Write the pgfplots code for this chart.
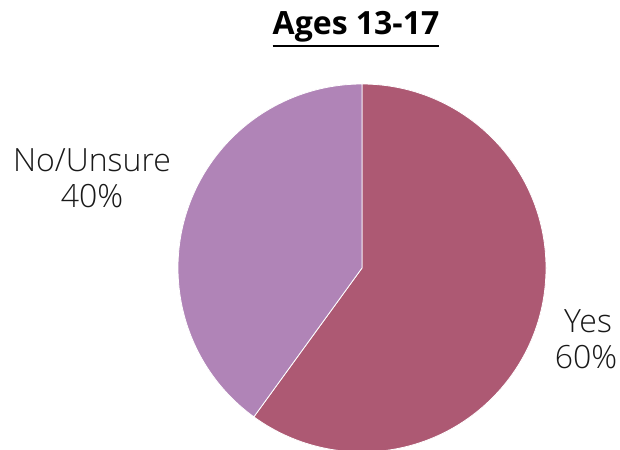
\documentclass[border=0pt]{standalone}
\usepackage{pgfplots}
\pgfplotsset{compat=1.18}
\usepackage{pgfplotstable}
\usepackage{fontspec}
\setmainfont{Open Sans}
\newfontfamily\lightfont{Open Sans Light}
\definecolor{yescol}{HTML}{AD5973}
\definecolor{nocol}{HTML}{B084B7}
\newcommand\ul[1]{\leavevmode\vtop{\hbox{#1}\kern2bp\hrule height 2.6bp}}
\pgfplotstableread{
label value
Yes 60
NoUnsure 40
}\piedata
\begin{document}
\begin{tikzpicture}
\pgfplotstablegetelem{0}{value}\of\piedata \edef\vyes{\pgfplotsretval}
\pgfplotstablegetelem{1}{value}\of\piedata \edef\vno{\pgfplotsretval}
\pgfmathsetmacro{\angA}{90-3.6*\vyes}
\pgfmathsetmacro{\angB}{\angA-3.6*\vno}
\begin{axis}[
  width=620bp, height=449bp, scale only axis,
  xmin=0, xmax=620, ymin=0, ymax=449,
  axis lines=none, clip=true,
]
\path (axis cs:0,0) rectangle (axis cs:620,449);
\fill[yescol, draw=white, line width=0.8bp] (axis cs:362,181) -- ++(90:184bp) arc[start angle=90, end angle=\angA, radius=184bp] -- cycle;
\fill[nocol, draw=white, line width=0.8bp] (axis cs:362,181) -- ++(\angA:184bp) arc[start angle=\angA, end angle=\angB, radius=184bp] -- cycle;
\node[anchor=base, inner sep=0pt, font=\bfseries\fontsize{32bp}{38bp}\selectfont] at (axis cs:356,414) {\ul{Ages 13-17}};
\node[anchor=base, font=\lightfont\fontsize{32bp}{37bp}\selectfont, text=black!90] at (axis cs:92,277) {No/Unsure};
\node[anchor=base, font=\lightfont\fontsize{32bp}{37bp}\selectfont, text=black!90] at (axis cs:92,241) {40\%};
\node[anchor=base, font=\lightfont\fontsize{32bp}{37bp}\selectfont, text=black!90] at (axis cs:588,117) {Yes};
\node[anchor=base, font=\lightfont\fontsize{32bp}{37bp}\selectfont, text=black!90] at (axis cs:586,81) {60\%};
\end{axis}
\end{tikzpicture}
\end{document}
